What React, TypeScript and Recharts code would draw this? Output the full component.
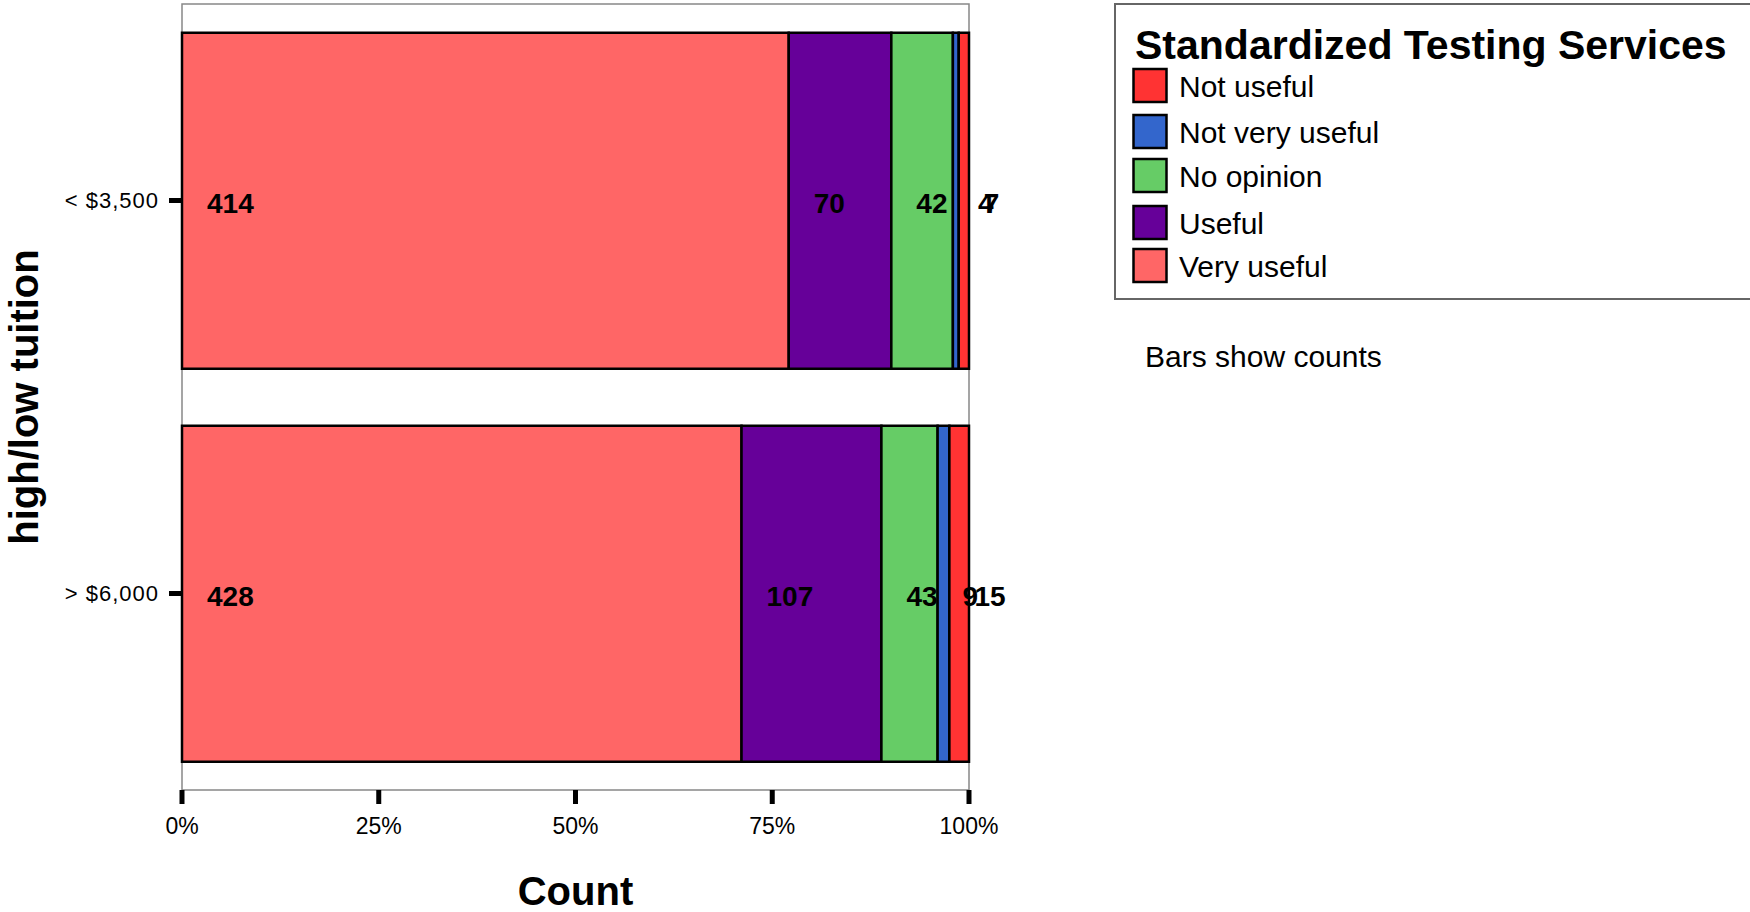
import React from 'react';
import { BarChart, Bar, XAxis, YAxis, ReferenceArea, Legend, Label } from 'recharts';

const FONT = "'Liberation Sans', Arial, Helvetica, sans-serif";

const categories = ['< $3,500', '> $6,000'];
const seriesNames = ['Very useful', 'Useful', 'No opinion', 'Not very useful', 'Not useful'];
const seriesKeys = ['veryUseful', 'useful', 'noOpinion', 'notVeryUseful', 'notUseful'];
const veryUseful = [414, 428];
const useful = [70, 107];
const noOpinion = [42, 43];
const notVeryUseful = [4, 9];
const notUseful = [7, 15];
const seriesColors = ['#FF6666', '#660099', '#66CC66', '#3366CC', '#FF3333'];
const xTicks = [0, 0.25, 0.5, 0.75, 1];
const xTickLabels = ['0%', '25%', '50%', '75%', '100%'];
const legendTitle = 'Standardized Testing Services';
const footnote = 'Bars show counts';
const xTitle = 'Count';
const yTitle = 'high/low tuition';

const seriesValues = [veryUseful, useful, noOpinion, notVeryUseful, notUseful];

const data = categories.map((name, i) => {
  const row: any = { name };
  seriesKeys.forEach((k, s) => {
    row[k] = seriesValues[s][i];
  });
  return row;
});

const makeLabel = (s: number) => (props: any) => {
  const { x, y, height, index } = props;
  return (
    <text
      key={`lbl-${s}-${index}`}
      x={Number(x) + 25}
      y={Number(y) + Number(height) / 2 + 12}
      fontFamily={FONT}
      fontWeight="bold"
      fontSize={28}
      fill="#000"
    >
      {seriesValues[s][index]}
    </text>
  );
};

const legendRowTops = [66, 112, 156, 203, 246];

const renderLegend = () => {
  const order = [4, 3, 2, 1, 0];
  return (
    <svg width={636} height={380} style={{ display: 'block' }}>
      <rect x={1} y={1} width={700} height={295} fill="#fff" stroke="#666" strokeWidth={2} />
      <text x={21} y={56} fontFamily={FONT} fontWeight="bold" fontSize={41} fill="#000">
        {legendTitle}
      </text>
      {order.map((s, i) => (
        <g key={seriesKeys[s]}>
          <rect
            x={19.5}
            y={legendRowTops[i]}
            width={33}
            height={33}
            fill={seriesColors[s]}
            stroke="#000"
            strokeWidth={2.5}
          />
          <text x={65} y={legendRowTops[i] + 28} fontFamily={FONT} fontSize={30} fill="#000">
            {seriesNames[s]}
          </text>
        </g>
      ))}
      <text x={31} y={364} fontFamily={FONT} fontSize={30} fill="#000">
        {footnote}
      </text>
    </svg>
  );
};

export default function App() {
  return (
    <div
      style={{
        position: 'absolute',
        left: 0,
        top: 0,
        width: 1750,
        height: 912,
        overflow: 'hidden',
        background: '#fff',
      }}
    >
      <BarChart
        width={1750}
        height={912}
        data={data}
        layout="vertical"
        stackOffset="expand"
        barCategoryGap="7.3%"
        margin={{ top: 4, right: 781, bottom: 0, left: 0 }}
      >
        <ReferenceArea x1={0} x2={1} fill="none" fillOpacity={0} stroke="#888" strokeWidth={1.5} />
        <XAxis
          type="number"
          domain={[0, 1]}
          ticks={xTicks}
          tickFormatter={(v: number) => xTickLabels[xTicks.indexOf(v)]}
          axisLine={false}
          tickLine={{ stroke: '#000', strokeWidth: 5 }}
          tickSize={14}
          tickMargin={14}
          tick={{ fill: '#000', fontSize: 23, fontFamily: FONT }}
          height={122}
          interval={0}
        >
          <Label
            content={(p: any) => {
              const vb = p.viewBox || { x: 182, y: 790, width: 787, height: 122 };
              return (
                <text
                  x={vb.x + vb.width / 2}
                  y={vb.y + vb.height - 7}
                  textAnchor="middle"
                  fontFamily={FONT}
                  fontWeight="bold"
                  fontSize={40}
                  fill="#000"
                >
                  {xTitle}
                </text>
              );
            }}
          />
        </XAxis>
        <YAxis
          type="category"
          dataKey="name"
          width={182}
          axisLine={false}
          tickLine={{ stroke: '#000', strokeWidth: 5 }}
          tickSize={13}
          tickMargin={10}
          tick={{ fill: '#000', fontSize: 22, fontFamily: FONT, letterSpacing: 1 }}
        >
          <Label
            content={(p: any) => {
              const vb = p.viewBox || { x: 0, y: 4, width: 182, height: 786 };
              const cx = 38;
              const cy = vb.y + vb.height / 2;
              return (
                <text
                  x={cx}
                  y={cy}
                  transform={`rotate(-90, ${cx}, ${cy})`}
                  textAnchor="middle"
                  fontFamily={FONT}
                  fontWeight="bold"
                  fontSize={40}
                  fill="#000"
                >
                  {yTitle}
                </text>
              );
            }}
          />
        </YAxis>
        <Legend
          layout="vertical"
          align="center"
          verticalAlign="middle"
          content={renderLegend}
          wrapperStyle={{ position: 'absolute', left: 1114, top: 3, width: 636, height: 380 }}
        />
        {seriesKeys.map((k, s) => (
          <Bar
            key={k}
            dataKey={k}
            name={seriesNames[s]}
            stackId="a"
            fill={seriesColors[s]}
            stroke="#000"
            strokeWidth={2.5}
            isAnimationActive={false}
            label={makeLabel(s)}
          />
        ))}
      </BarChart>
    </div>
  );
}
